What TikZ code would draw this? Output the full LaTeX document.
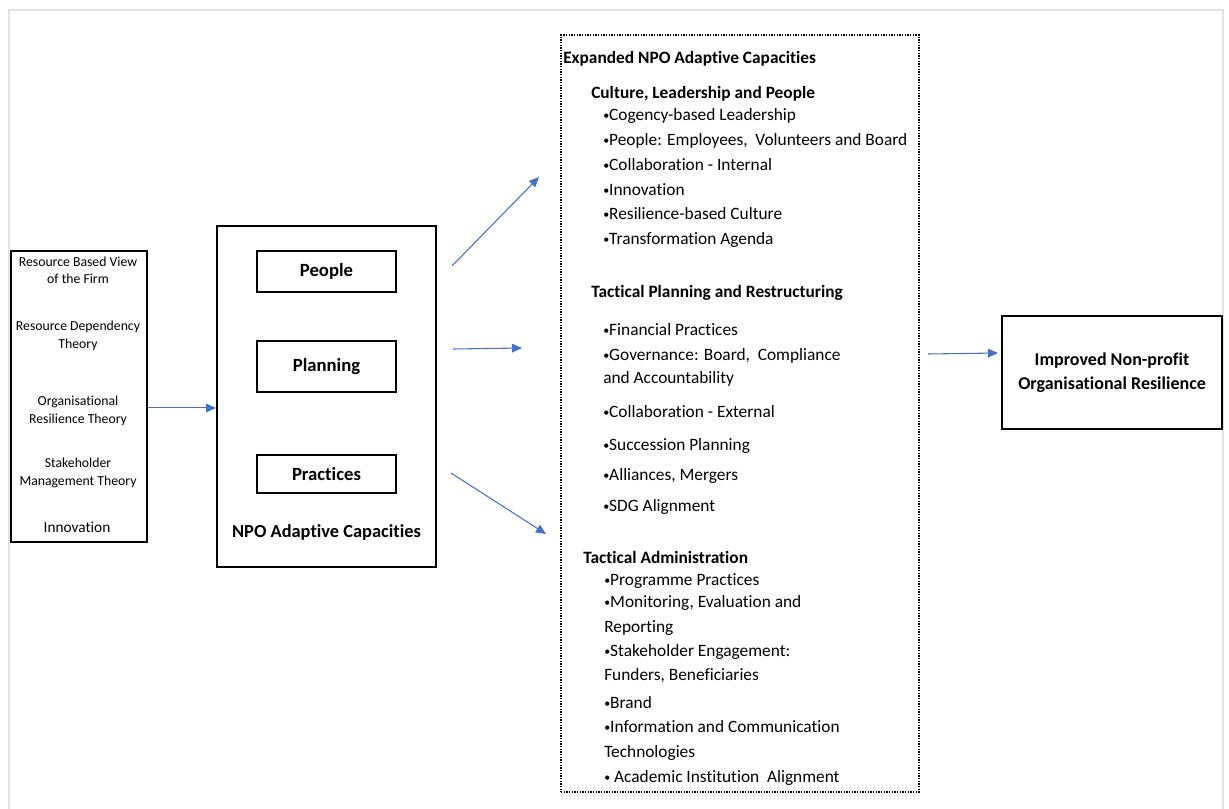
\documentclass[tikz,border=0pt]{standalone}
\usepackage{fontspec}
\setmainfont{Carlito}[Ligatures={NoCommon}]
\usepackage{tikz}
\usetikzlibrary{arrows.meta}
\definecolor{linkblue}{HTML}{4472C4}
\definecolor{framegray}{HTML}{E2E2E2}
\newcommand{\dotmark}{{\fontsize{9}{9}\selectfont\raisebox{0.12em}{•}}}
\tikzset{
    box/.style={
      rectangle,
      draw=black, line width=1.5pt,
      inner sep=0pt,
    },
    subbox/.style={
      box,
      minimum width=104.25pt,
      font=\fontsize{14}{16}\selectfont\bfseries,
    },
    theory/.style={
      inner sep=0pt, text height=6.6pt, text depth=0pt,
      font=\fontsize{10.3}{12}\selectfont,
    },
    item/.style={
      anchor=west, inner sep=0pt, text height=8.4pt, text depth=0pt,
      font=\fontsize{13}{15}\selectfont,
    },
    head/.style={item, font=\fontsize{13}{15}\selectfont\bfseries},
    link/.style={draw=linkblue, line width=0.8pt, ->},
}
\begin{document}
\begin{tikzpicture}[x=0.75pt,y=-0.75pt,>={Triangle[length=7.5pt,width=6.5pt]}]
    \useasboundingbox (0,0) rectangle (1229,809);
    % page frame
    \draw[framegray, line width=1.5pt] (9,809) -- (9,10) -- (1223,10) -- (1223,809);

    % theories
    \node[box, minimum width=102pt, minimum height=218.25pt] (theories) at (79,396.5) {};
    \foreach \y/\t [count=\i] in {262/Resource Based View, 279/of the Firm,
      326/Resource Dependency, 344/Theory, 401/Organisational,
      419/Resilience Theory, 463/Stakeholder, 481/Management Theory}
      \node[theory] (theory-\i) at (78,\y) {\t};
    \node[theory, font=\fontsize{11.5}{14}\selectfont] (innov) at (77,528) {Innovation};

    % adaptive capacities
    \node[box, minimum width=164.25pt, minimum height=255.75pt] (npo) at (326.5,396.5) {};
    \node[subbox, minimum height=30.75pt] (people) at (326.5,271.5) {People};
    \node[subbox, minimum height=38.25pt] (planning) at (326.5,366.5) {Planning};
    \node[subbox, minimum height=28.5pt] (practices) at (326.5,474) {Practices};
    \node[font=\fontsize{13.8}{16}\selectfont\bfseries] (npo-label) at (326.5,532) {NPO Adaptive Capacities};

    % expanded capacities
    \node[box, line width=1pt, densely dotted, minimum width=268.5pt, minimum height=567.75pt] (expanded) at (740,413.5) {};
    \node[head] (exp-head) at (563,58) {Expanded NPO Adaptive Capacities};

    \node[head] (cul-head) at (591,93) {Culture, Leadership and People};
    \foreach \y/\t [count=\i] in {115/\dotmark Cogency-based Leadership,
      140/{\dotmark People: Employees,\ \ Volunteers and Board},
      165/\dotmark Collaboration - Internal, 190/\dotmark Innovation,
      214/\dotmark Resilience-based Culture, 239/\dotmark Transformation Agenda}
      \node[item] (cul-\i) at (603,\y) {\t};

    \node[head] (tac-head) at (591,292) {Tactical Planning and Restructuring};
    \foreach \y/\t [count=\i] in {330/\dotmark Financial Practices,
      355/{\dotmark Governance: Board,\ \ Compliance}, 378/and Accountability,
      412/\dotmark Collaboration - External, 445/\dotmark Succession Planning,
      475/{\dotmark Alliances, Mergers}, 506/\dotmark SDG Alignment}
      \node[item] (tac-\i) at (603,\y) {\t};

    \node[head] (adm-head) at (583,558) {Tactical Administration};
    \foreach \y/\t [count=\i] in {580/\dotmark Programme Practices,
      602/{\dotmark Monitoring, Evaluation and}, 627/Reporting,
      651/\dotmark Stakeholder Engagement:, 675/{Funders, Beneficiaries},
      703/\dotmark Brand, 727/\dotmark Information and Communication, 752/Technologies,
      777/\dotmark\ Academic Institution\ \ Alignment}
      \node[item] (adm-\i) at (604,\y) {\t};

    % outcome
    \node[box, minimum width=165pt, minimum height=84.75pt, align=center,
      font=\fontsize{13.5}{18}\selectfont\bfseries] (resilience) at (1112,372.5)
      {Improved Non-profit\\Organisational Resilience};

    % arrows
    \coordinate (up-start) at (452,266);
    \coordinate (up-end) at (539,177);
    \coordinate (mid-start) at (453,349);
    \coordinate (mid-end) at (522,348);
    \coordinate (down-start) at (451,473);
    \coordinate (down-end) at (546,534);
    \coordinate (out-start) at (928,354);
    \coordinate (out-end) at (998,353);

    \draw[link] ([yshift=-8.6pt]theories.east) -- ([yshift=-8.6pt]npo.west);
    \draw[link] (up-start) -- (up-end);
    \draw[link] (mid-start) -- (mid-end);
    \draw[link] (down-start) -- (down-end);
    \draw[link] (out-start) -- (out-end);

\end{tikzpicture}
\end{document}
